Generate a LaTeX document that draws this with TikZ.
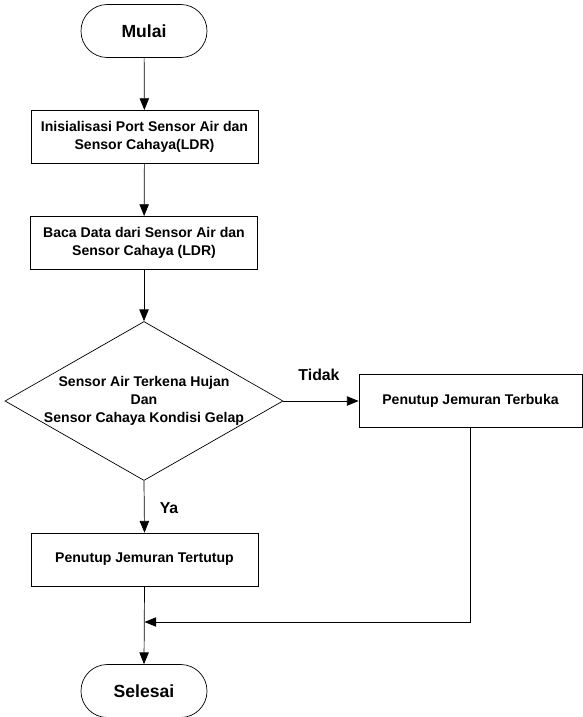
\documentclass[tikz,border=0pt]{standalone}
\usepackage{fontspec}
\setmainfont{Liberation Sans}
\usepackage{tikz}
\usetikzlibrary{arrows.meta,shapes.geometric}

\tikzset{
  terminal/.style={draw, rectangle, rounded corners=0.79cm, minimum width=3.78cm, minimum height=1.59cm, font=\fontsize{15}{18}\selectfont\bfseries},
  proses/.style={draw, rectangle, minimum width=6.81cm, minimum height=1.6cm, align=center, font=\fontsize{12}{15.4}\selectfont\bfseries},
  keputusan/.style={draw, diamond, inner sep=0pt, minimum width=8.34cm, minimum height=4.77cm},
  panah/.style={-{Triangle[length=10pt,width=8pt]}},
  ket/.style={font=\fontsize{13.5}{16}\selectfont\bfseries},
}

\begin{document}
\begin{tikzpicture}[x=0.03cm, y=-0.03cm, line width=0.6pt]
        \useasboundingbox (0,0) rectangle (583,717);
        % start
        \node[terminal] (mulai) at (144,31) {Mulai};
        % init and read
        \node[proses] (init) at (144.5,137) {Inisialisasi Port Sensor Air dan\\Sensor Cahaya(LDR)};
        \node[proses] (baca) at (144,243) {Baca Data dari Sensor Air dan\\Sensor Cahaya (LDR)};
        % decision
        \node[keputusan] (cek) at (144,401) {};
        \node[font=\fontsize{12}{15.4}\selectfont\bfseries, align=center] (syarat) at (cek) {Sensor Air Terkena Hujan\\Dan\\Sensor Cahaya Kondisi Gelap};
        % outcomes
        \node[proses, minimum width=6.69cm, minimum height=1.59cm] (buka) at (470.5,401) {Penutup Jemuran Terbuka};
        \node[proses, minimum height=1.59cm] (tutup) at (144.5,559.5) {Penutup Jemuran Tertutup};
        % end
        \node[terminal] (selesai) at (144,691) {Selesai};
        \coordinate (gabung) at (144.5,622);
        % labels
        \node[ket] (tidak) at (319,375) {Tidak};
        \node[ket] (ya) at (169,508) {Ya};
        % arrows
        \draw[panah] (mulai) -- (init);
        \draw[panah] (init) -- (baca);
        \draw[panah] (baca) -- (cek);
        \draw[panah] (cek.east) -- (buka.west);
        \draw[panah] (cek.south) -- (tutup.north);
        \draw[panah] (buka.south) |- (gabung);
        \draw[panah] (tutup.south) -- (selesai.north);
    \end{tikzpicture}
\end{document}
